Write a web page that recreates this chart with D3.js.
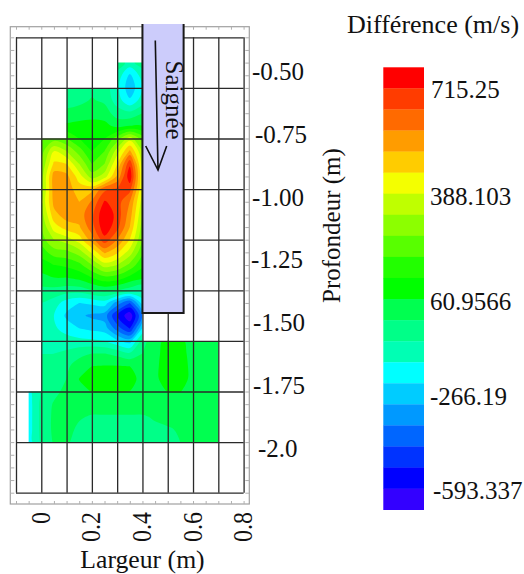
<!DOCTYPE html>
<html><head><meta charset="utf-8">
<script src="https://cdn.jsdelivr.net/npm/d3@7"></script>
<style>
html,body{margin:0;padding:0;background:#fff}
svg{display:block}
text{font-family:"Liberation Serif","Times New Roman",serif;fill:#111}
</style></head><body>
<svg id="c" width="524" height="574"></svg>
<script>
const xNodes=[-0.05,0,0.05,0.1,0.15,0.2,0.25,0.3,0.35,0.4,0.45,0.5,0.55,0.6,0.65,0.7];
const depthNodes=[-0.5,-0.55,-0.6,-0.65,-0.7,-0.75,-0.8,-0.85,-0.9,-0.95,-1.0,-1.05,-1.1,-1.15,-1.2,-1.25,-1.3,-1.35,-1.4,-1.45,-1.5,-1.55,-1.6,-1.65,-1.7,-1.75,-1.8,-1.85,-1.9,-1.95,-2.0];
const difference=[
[-70,-70,-70,-70,-70,-70,-70,-70,-122,-70,-4,-4,-4,-4,-4,-4],
[-70,-70,-70,-70,-70,-70,-90,-122,-247,-135,-4,-4,-4,-4,-4,-4],
[-90,-90,-90,-90,-83,-57,-70,-149,-280,-168,-4,-4,-4,-4,-4,-4],
[-70,-70,-70,-70,-57,-30,-50,-135,-221,-135,-4,-4,-4,-4,-4,-4],
[-17,-17,-17,-17,-4,9,-4,-70,-83,-37,-4,-4,-4,-4,-4,-4],
[41,41,41,41,48,48,48,9,28,28,-4,-4,-4,-4,-4,-4],
[159,159,192,159,93,61,93,192,323,192,-4,-4,-4,-4,-4,-4],
[192,192,355,290,192,93,159,323,499,290,-4,-4,-4,-4,-4,-4],
[224,224,434,421,290,159,224,421,670,323,-4,-4,-4,-4,-4,-4],
[257,257,519,506,388,257,323,499,730,355,-4,-4,-4,-4,-4,-4],
[257,257,519,519,453,466,600,630,640,355,-4,-4,-4,-4,-4,-4],
[290,290,506,519,486,560,690,650,551,323,-4,-4,-4,-4,-4,-4],
[257,257,466,519,519,600,740,660,519,290,-4,-4,-4,-4,-4,-4],
[224,224,388,453,479,590,730,640,486,257,-4,-4,-4,-4,-4,-4],
[192,192,290,323,388,519,660,551,421,224,-4,-4,-4,-4,-4,-4],
[126,126,192,205,257,368,499,434,323,172,-4,-4,-4,-4,-4,-4],
[61,61,93,107,139,224,323,290,205,107,-4,-4,-4,-4,-4,-4],
[9,9,28,28,48,93,139,126,74,41,-4,-4,-4,-4,-4,-4],
[-57,-57,-57,-70,-70,-37,-17,-37,-70,-103,-4,-4,-4,-4,-4,-4],
[-103,-103,-135,-201,-234,-221,-201,-330,-430,-201,-4,-4,-4,-4,-4,-4],
[-135,-135,-168,-247,-286,-312,-332,-495,-610,-360,-4,-4,-4,-4,-4,-4],
[-135,-135,-155,-201,-234,-253,-266,-400,-500,-234,-4,-4,-4,-4,-4,-4],
[-103,-103,-116,-135,-149,-155,-168,-221,-266,-70,20,35,35,15,-4,-4],
[-103,-103,-103,-90,-57,-37,-37,-57,-90,-37,20,41,41,15,-4,-4],
[-90,-90,-70,-50,-4,28,32,32,28,-4,20,48,48,15,-4,-4],
[-83,-83,-57,-37,30,60,60,60,50,9,20,48,48,15,-4,-4],
[-188,-90,-57,-17,15,30,32,32,28,-4,9,30,30,5,-4,-4],
[-201,-83,-30,-4,-4,-4,-4,-4,-4,-4,-4,-4,-4,-4,-4,-4],
[-201,-83,-24,-4,-30,-44,-44,-44,-44,-44,-30,-17,-4,-4,-4,-4],
[-201,-83,-24,-17,-50,-57,-57,-57,-57,-57,-50,-44,-30,-4,-4,-4],
[-201,-90,-30,-30,-57,-57,-57,-57,-57,-57,-57,-50,-37,-4,-4,-4]
];
const extent=[[-0.05,-2.0],[-0.05,-1.8],[0,-1.8],[0,-0.8],[0.1,-0.8],[0.1,-0.6],[0.3,-0.6],[0.3,-0.5],[0.4,-0.5],[0.4,-1.6],[0.7,-1.6],[0.7,-2.0]];
const bandColors=["#ff0000","#ff3c00","#ff6a00","#ff9c00","#ffcc00","#f4ff00","#bfff00","#8cff00","#58ff00","#22ff00","#00ff00","#00ff50","#00ff88","#00ffb4","#00ffff","#00ccff","#0099ff","#0066ff","#0033ff","#0000ff","#3300ff"];
const bandCenters=[715.25,649.82,584.39,518.96,453.53,388.103,322.67,257.24,191.81,126.38,60.9566,-4.47,-69.9,-135.33,-200.76,-266.19,-331.62,-397.05,-462.48,-527.91,-593.337];
const legendLabels=["715.25","388.103","60.9566","-266.19","-593.337"];
const legendBands=[0,5,10,15,20];
const xTicks=[0,0.2,0.4,0.6,0.8];
const xTickLabels=["0","0.2","0.4","0.6","0.8"];
const depthTicks=[-0.5,-0.75,-1.0,-1.25,-1.5,-1.75,-2.0];
const depthTickLabels=["-0.50","-0.75","-1.00","-1.25","-1.50","-1.75","-2.0"];
const xGrid=[-0.1,0,0.1,0.2,0.3,0.4,0.5,0.6,0.7,0.8];
const depthGrid=[-0.4,-0.6,-0.8,-1.0,-1.2,-1.4,-1.6,-1.8,-2.0,-2.2];
const xFrameTicks=[-0.1,-0.05,0,0.05,0.1,0.15,0.2,0.25,0.3,0.35,0.4,0.45,0.5,0.55,0.6,0.65,0.7,0.75,0.8];
const depthFrameTicks=[-0.4,-0.45,-0.5,-0.55,-0.6,-0.65,-0.7,-0.75,-0.8,-0.85,-0.9,-0.95,-1.0,-1.05,-1.1,-1.15,-1.2,-1.25,-1.3,-1.35,-1.4,-1.45,-1.5,-1.55,-1.6,-1.65,-1.7,-1.75,-1.8,-1.85,-1.9,-1.95,-2.0,-2.05,-2.1,-2.15,-2.2];

const FONT=25;
const x=d3.scaleLinear([-0.1,0.8],[16,243.6]);
const y=d3.scaleLinear([-0.4,-2.2],[37.3,492.7]);
const svg=d3.select("#c");
const defs=svg.append("defs");
defs.append("clipPath").attr("id","region").append("path")
  .attr("d",d3.line().x(d=>x(d[0])).y(d=>y(d[1])).curve(d3.curveLinearClosed)(extent));
defs.append("filter").attr("id","soft").attr("x","-5%").attr("y","-5%").attr("width","110%").attr("height","110%")
  .attr("color-interpolation-filters","sRGB")
  .append("feGaussianBlur").attr("stdDeviation",0.6);

// map
const nCols=xNodes.length,nRows=depthNodes.length;
const colToX=d3.scaleLinear([0.5,nCols-0.5],[xNodes[0],xNodes[nCols-1]]);
const rowToDepth=d3.scaleLinear([0.5,nRows-0.5],[depthNodes[0],depthNodes[nRows-1]]);
const halfStep=(bandCenters[0]-bandCenters[20])/40;
const lowerBounds=bandCenters.map((v,i)=>i===20?-100000:v-halfStep).reverse();
const colorsAsc=bandColors.slice().reverse();
const cs=d3.contours().size([nCols,nRows]).thresholds(lowerBounds)(difference.flat());
const ringLine=d3.line().x(p=>x(colToX(p[0]))).y(p=>y(rowToDepth(p[1]))).curve(d3.curveCatmullRomClosed.alpha(0.5));
const contourPath=c=>c.coordinates.map(poly=>poly.map(ring=>ringLine(ring.slice(0,-1))).join("")).join("");
svg.append("g").attr("clip-path","url(#region)").append("g").attr("filter","url(#soft)")
  .selectAll("path").data(cs).join("path")
  .attr("d",(d,i)=>i===0?d3.geoPath(d3.geoTransform({point(px,py){this.stream.point(x(colToX(px)),y(rowToDepth(py)));}}))(d):contourPath(d))
  .attr("fill",(d,i)=>colorsAsc[i]);

// outer frame with small ticks
const frame={l:10.3,r:249.3,t:26.7,b:504};
svg.append("rect").attr("x",frame.l).attr("y",frame.t).attr("width",frame.r-frame.l).attr("height",frame.b-frame.t)
  .attr("fill","none").attr("stroke","#a0a0a0").attr("stroke-width",1.2);
const styleTicks=g=>{g.select(".domain").remove();g.selectAll("line").attr("stroke","#b0b0b0").attr("stroke-width",1);};
svg.append("g").attr("transform",`translate(0,${frame.b})`).call(d3.axisBottom(x).tickValues(xFrameTicks).tickSize(-3).tickFormat("")).call(styleTicks);
svg.append("g").attr("transform",`translate(0,${frame.t})`).call(d3.axisTop(x).tickValues(xFrameTicks).tickSize(-3).tickFormat("")).call(styleTicks);
svg.append("g").attr("transform",`translate(${frame.l},0)`).call(d3.axisLeft(y).tickValues(depthFrameTicks).tickSize(-4).tickFormat("")).call(styleTicks);
svg.append("g").attr("transform",`translate(${frame.r},0)`).call(d3.axisRight(y).tickValues(depthFrameTicks).tickSize(-4).tickFormat("")).call(styleTicks);

// grid
const styleGrid=g=>{g.select(".domain").remove();g.selectAll("line").attr("stroke","#2a2a2a").attr("stroke-width",1.3);};
svg.append("g").attr("transform",`translate(0,${y(-2.2)})`)
  .call(d3.axisBottom(x).tickValues(xGrid).tickSize(-(y(-2.2)-y(-0.4))).tickFormat("")).call(styleGrid);
svg.append("g").attr("transform",`translate(${x(-0.1)},0)`)
  .call(d3.axisLeft(y).tickValues(depthGrid).tickSize(-(x(0.8)-x(-0.1))).tickFormat("")).call(styleGrid);

// Saignée overlay
const sx0=x(0.4),sx1=x(0.5628),sy0=24,sy1=y(-1.49);
svg.append("rect").attr("x",sx0).attr("y",sy0).attr("width",sx1-sx0).attr("height",sy1-sy0).attr("fill","#ccccfb");
svg.append("path").attr("d",`M${sx0},${sy0}V${sy1}H${sx1}V${sy0}`).attr("fill","none").attr("stroke","#1a1a1a").attr("stroke-width",2);
svg.append("path").attr("d","M155.3,40.5L158,170M145.7,146L158,170L166.7,146").attr("fill","none").attr("stroke","#111").attr("stroke-width",1.6);
svg.append("text").attr("transform","translate(166,60.5) rotate(90)").attr("font-size",FONT).text("Saignée");

// tick labels
const depthLabelY=d3.scaleLinear([-0.5,-2.0],[71.6,448]);
const depthLabelX=[252,255,252,251,253,253,258];
svg.append("g").selectAll("text").data(depthTicks).join("text")
  .attr("x",(d,i)=>depthLabelX[i]).attr("y",d=>depthLabelY(d)+8.5).attr("font-size",FONT)
  .text((d,i)=>depthTickLabels[i]);
svg.append("g").selectAll("text").data(xTicks).join("text")
  .attr("transform",d=>`translate(${x(d)+8.5},512) rotate(-90) scale(1,1.18)`)
  .attr("text-anchor","end").attr("font-size",24)
  .text((d,i)=>xTickLabels[i]);
svg.append("text").attr("x",142.5).attr("y",568).attr("text-anchor","middle").attr("font-size",25.7).text("Largeur (m)");
svg.append("text").attr("transform","translate(340,303) rotate(-90)").attr("font-size",FONT).text("Profondeur (m)");
svg.append("text").attr("x",347).attr("y",33).attr("font-size",26).text("Différence (m/s)");

// legend
const ly=d3.scaleBand(d3.range(bandColors.length),[67.3,509.7]);
svg.append("g").selectAll("rect").data(bandColors).join("rect")
  .attr("x",383.3).attr("width",40.7).attr("y",(d,i)=>ly(i)).attr("height",ly.bandwidth()+0.3).attr("fill",d=>d);
const legendDy=[12,13,13,3,-9];
const legendX=[431,430,430,430,433];
svg.append("g").selectAll("text").data(legendBands).join("text")
  .attr("x",(d,i)=>legendX[i]).attr("y",(d,i)=>ly(d)+ly.bandwidth()/2+legendDy[i]+8.5)
  .attr("font-size",FONT).text((d,i)=>legendLabels[i]);
</script>
</body></html>
